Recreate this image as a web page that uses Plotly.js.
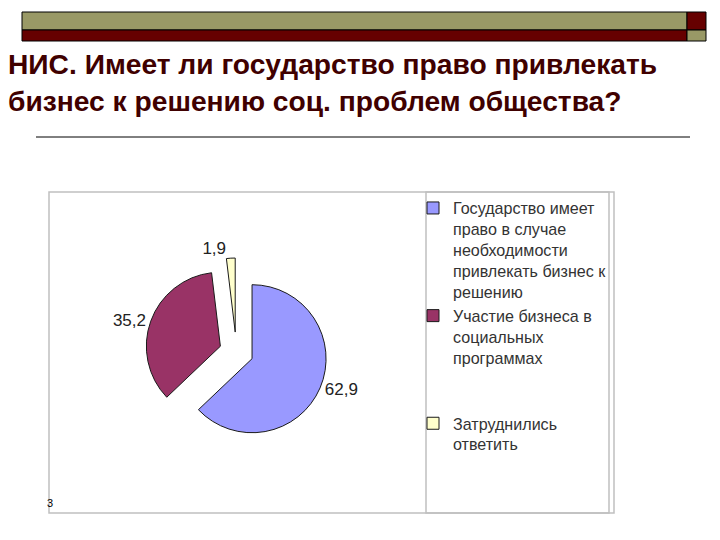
<!DOCTYPE html>
<html>
<head>
<meta charset="utf-8">
<script src="https://cdn.plot.ly/plotly-3.0.1.min.js"></script>
<style>
  html, body { margin: 0; padding: 0; background: #ffffff; }
  #chart { width: 720px; height: 540px; }
</style>
</head>
<body>
<div id="chart"></div>
<script>
// ---- data ----
var titleLines = [
  "НИС. Имеет ли государство право привлекать",
  "бизнес к решению соц. проблем общества?"
];
var categoryLines = [
  ["Государство имеет", "право в случае", "необходимости", "привлекать бизнес к", "решению"],
  ["Участие бизнеса в", "социальных", "программах"],
  ["Затруднились", "ответить"]
];
var values = [62.9, 35.2, 1.9];
var sliceColors = ["#9999FF", "#993366", "#FFFFCC"];
var slideNumber = "3";

// ---- layout helpers (pixel -> paper, page is 720x540 with zero margins) ----
var W = 720, H = 540;
function px(x) { return x / W; }
function py(y) { return 1 - y / H; }

// legend entries are laid out on an even 5-line grid, like the original legend
var legendLineSlots = 5;
var legendLabels = categoryLines.map(function (lines) {
  var l = lines.slice();
  while (l.length < legendLineSlots) l.push(" ");
  return l.join("<br>");
});

var trace = {
  type: "pie",
  labels: legendLabels,
  values: values,
  sort: false,
  direction: "clockwise",
  rotation: 0,
  pull: [0.23, 0.23, 0.27],
  marker: { colors: sliceColors, line: { color: "#1a1a1a", width: 1 } },
  textinfo: "value",
  textposition: "outside",
  outsidetextfont: { family: "Liberation Sans, Arial, sans-serif", size: 17, color: "#222222" },
  hoverinfo: "none",
  automargin: false,
  domain: { x: [px(142.4), px(330.4)], y: [py(446), py(258)] }
};

var shapes = [
  // top decorative band
  { type: "rect", xref: "paper", yref: "paper", x0: px(22), x1: px(687), y0: py(30), y1: py(12),
    fillcolor: "#999966", line: { color: "#000000", width: 1 }, layer: "below" },
  { type: "rect", xref: "paper", yref: "paper", x0: px(22), x1: px(687), y0: py(41), y1: py(30),
    fillcolor: "#660000", line: { color: "#000000", width: 1 }, layer: "below" },
  { type: "rect", xref: "paper", yref: "paper", x0: px(687), x1: px(706), y0: py(30), y1: py(12),
    fillcolor: "#660000", line: { color: "#000000", width: 1 }, layer: "below" },
  { type: "rect", xref: "paper", yref: "paper", x0: px(687), x1: px(706), y0: py(41), y1: py(30),
    fillcolor: "#999966", line: { color: "#000000", width: 1 }, layer: "below" },
  // rule under title
  { type: "line", xref: "paper", yref: "paper", x0: px(36), x1: px(690), y0: py(137), y1: py(137),
    line: { color: "#000000", width: 1 }, layer: "below" },
  // chart frame
  { type: "rect", xref: "paper", yref: "paper", x0: px(49), x1: px(614), y0: py(513), y1: py(192),
    line: { color: "#c0c0c0", width: 1.5 }, layer: "below" },
  // legend frame
  { type: "rect", xref: "paper", yref: "paper", x0: px(426), x1: px(609), y0: py(513), y1: py(192),
    line: { color: "#c0c0c0", width: 1.5 }, layer: "below" }
];

var layout = {
  width: W, height: H,
  margin: { l: 0, r: 0, t: 0, b: 0, pad: 0 },
  paper_bgcolor: "#ffffff",
  plot_bgcolor: "#ffffff",
  separators: ", ",
  showlegend: true,
  title: {
    text: titleLines.join("<br>"),
    x: px(8), xref: "paper", xanchor: "left",
    y: py(74), yref: "container", yanchor: "top",
    font: { family: "Liberation Sans, Arial, sans-serif", size: 28.2, color: "#400000", weight: "bold" }
  },
  legend: {
    x: px(413), xanchor: "left", xref: "paper",
    y: py(191), yanchor: "top", yref: "paper",
    valign: "top",
    bgcolor: "rgba(0,0,0,0)",
    borderwidth: 0,
    traceorder: "normal",
    font: { family: "Liberation Sans, Arial, sans-serif", size: 16.1, color: "#333333" }
  },
  shapes: shapes,
  annotations: [
    { text: slideNumber, xref: "paper", yref: "paper", x: px(45), y: py(511),
      showarrow: false, font: { family: "Liberation Sans, Arial, sans-serif", size: 11, color: "#000000" } }
  ]
};

Plotly.newPlot("chart", [trace], layout, { staticPlot: true, displayModeBar: false });
</script>
</body>
</html>
